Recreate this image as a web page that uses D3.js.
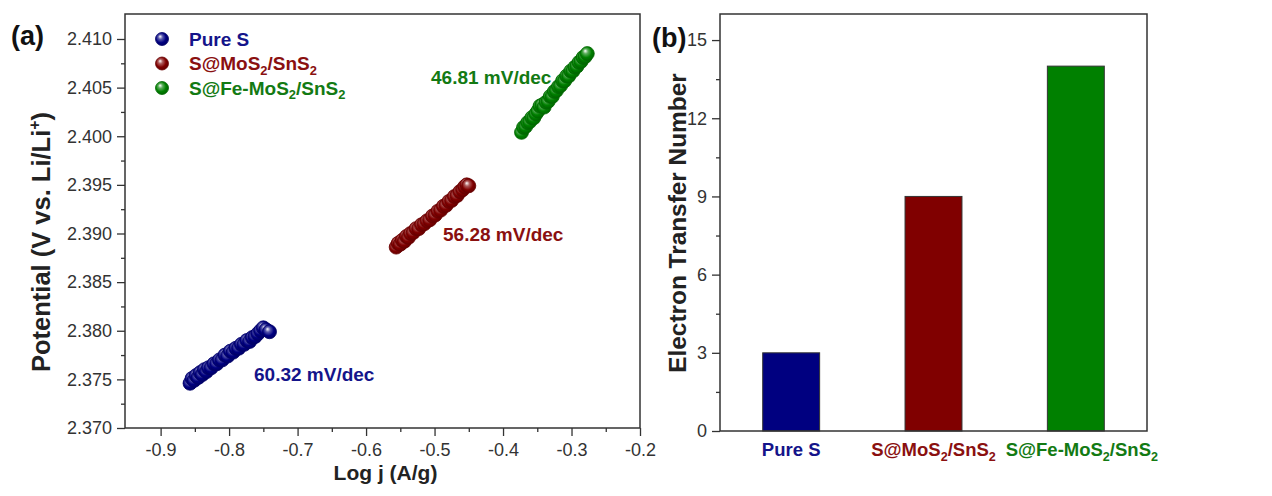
<!DOCTYPE html>
<html>
<head>
<meta charset="utf-8">
<script src="https://cdn.jsdelivr.net/npm/d3@7"></script>
<style>
  html, body { margin: 0; padding: 0; background: #fff; }
  svg { display: block; font-family: "Liberation Sans", Arial, sans-serif; }
</style>
</head>
<body>
<svg id="chart" width="1272" height="496"></svg>
<script>
// ---- Tafel data: log j (A/g) vs potential (V vs. Li/Li+) ----
const pureS = [
  [-0.857, 2.3746], [-0.854, 2.3751], [-0.851, 2.3749], [-0.848, 2.3754], [-0.845, 2.3752],
  [-0.842, 2.3757], [-0.839, 2.3755], [-0.836, 2.3760], [-0.833, 2.3758], [-0.830, 2.3762],
  [-0.826, 2.3762], [-0.822, 2.3766], [-0.818, 2.3766], [-0.814, 2.3770], [-0.810, 2.3770],
  [-0.806, 2.3775], [-0.802, 2.3774], [-0.798, 2.3779], [-0.794, 2.3778], [-0.790, 2.3782],
  [-0.786, 2.3782], [-0.782, 2.3786], [-0.778, 2.3786], [-0.774, 2.3790], [-0.770, 2.3789],
  [-0.766, 2.3793], [-0.762, 2.3794], [-0.758, 2.3797], [-0.754, 2.3800], [-0.750, 2.3803],
  [-0.746, 2.3801], [-0.741, 2.3799]
];
const moS2 = [
  [-0.556, 2.3886], [-0.553, 2.3890], [-0.550, 2.3889], [-0.547, 2.3893], [-0.544, 2.3892],
  [-0.541, 2.3897], [-0.538, 2.3896], [-0.535, 2.3900], [-0.531, 2.3901], [-0.527, 2.3905],
  [-0.523, 2.3905], [-0.519, 2.3909], [-0.515, 2.3910], [-0.511, 2.3913], [-0.507, 2.3914],
  [-0.503, 2.3918], [-0.499, 2.3919], [-0.495, 2.3923], [-0.491, 2.3924], [-0.487, 2.3928],
  [-0.483, 2.3929], [-0.479, 2.3933], [-0.475, 2.3934], [-0.471, 2.3938], [-0.467, 2.3939],
  [-0.463, 2.3943], [-0.459, 2.3945], [-0.456, 2.3948], [-0.453, 2.3950], [-0.450, 2.3949]
];
const feMoS2 = [
  [-0.373, 2.4004], [-0.370, 2.4009], [-0.367, 2.4010], [-0.364, 2.4014], [-0.361, 2.4015],
  [-0.358, 2.4019], [-0.355, 2.4019], [-0.352, 2.4023], [-0.349, 2.4026], [-0.346, 2.4031],
  [-0.343, 2.4032], [-0.340, 2.4030], [-0.337, 2.4035], [-0.334, 2.4036], [-0.331, 2.4041],
  [-0.328, 2.4041], [-0.325, 2.4046], [-0.322, 2.4047], [-0.319, 2.4051], [-0.316, 2.4052],
  [-0.313, 2.4057], [-0.310, 2.4057], [-0.307, 2.4062], [-0.304, 2.4062], [-0.301, 2.4067],
  [-0.298, 2.4067], [-0.295, 2.4071], [-0.292, 2.4072], [-0.289, 2.4076], [-0.286, 2.4077],
  [-0.283, 2.4081], [-0.280, 2.4082], [-0.277, 2.4085]
];
const tafelSlopes = ["60.32 mV/dec", "56.28 mV/dec", "46.81 mV/dec"];
const xTicksA = [-0.9, -0.8, -0.7, -0.6, -0.5, -0.4, -0.3, -0.2];
const yTicksA = [2.370, 2.375, 2.380, 2.385, 2.390, 2.395, 2.400, 2.405, 2.410];

// ---- Electron transfer number ----
const samples = ["Pure S", "S@MoS2/SnS2", "S@Fe-MoS2/SnS2"];
const electronNumbers = [3, 9, 14];
const yTicksB = [0, 3, 6, 9, 12, 15];

const colors = ["#000080", "#800000", "#008000"];
const textColors = ["#14148a", "#8a1010", "#137a13"];

const svg = d3.select("#chart");

// sphere-like marker fills
const defs = svg.append("defs");
colors.forEach((c, i) => {
  const g = defs.append("radialGradient").attr("id", "ball" + i)
    .attr("cx", "45%").attr("cy", "45%").attr("r", "60%")
    .attr("fx", "35%").attr("fy", "30%");
  g.append("stop").attr("offset", "0%").attr("stop-color", "#ffffff");
  g.append("stop").attr("offset", "30%").attr("stop-color", d3.interpolateRgb(c, "#fff")(0.35));
  g.append("stop").attr("offset", "65%").attr("stop-color", c);
  g.append("stop").attr("offset", "100%").attr("stop-color", d3.color(c).darker(0.8));
});

// text with chemical subscripts: "MoS2" -> MoS<sub>2</sub>
function chemText(sel, label, fontSize) {
  const shift = fontSize * 0.25;
  const parts = label.split(/(\d)/).filter(p => p !== "");
  let lowered = false;
  parts.forEach(p => {
    if (/^\d$/.test(p)) {
      sel.append("tspan").attr("font-size", fontSize * 0.68).attr("dy", shift).text(p);
      lowered = true;
    } else {
      const t = sel.append("tspan").text(p);
      if (lowered) { t.attr("dy", -shift); lowered = false; }
    }
  });
}

function styleAxis(g, fontSize) {
  g.select(".domain").remove();
  g.selectAll(".tick line").attr("stroke", "#333").attr("stroke-width", 1.3);
  g.selectAll(".tick text").attr("fill", "#333").attr("font-size", fontSize)
    .attr("font-family", "'Liberation Sans', Arial, sans-serif");
}

const TICK_FONT = 18;

// ================= Panel (a) =================
const A = { left: 125, top: 14, right: 640, bottom: 428 };
const xA = d3.scaleLinear().domain([-0.952, -0.2]).range([A.left, A.right]);
const yA = d3.scaleLinear().domain([2.370, 2.41257]).range([A.bottom, A.top]);

const gA = svg.append("g");

gA.append("g").attr("transform", `translate(0,${A.bottom})`)
  .call(d3.axisBottom(xA).tickValues(d3.range(-0.85, -0.2, 0.1)).tickSize(4).tickFormat(""))
  .call(g => styleAxis(g, TICK_FONT));
gA.append("g").attr("transform", `translate(0,${A.bottom})`)
  .call(d3.axisBottom(xA).tickValues(xTicksA).tickSize(8).tickPadding(7).tickFormat(d => d.toFixed(1)))
  .call(g => styleAxis(g, TICK_FONT));

gA.append("g").attr("transform", `translate(${A.left},0)`)
  .call(d3.axisLeft(yA).tickValues(d3.range(2.3725, 2.411, 0.005)).tickSize(4).tickFormat(""))
  .call(g => styleAxis(g, TICK_FONT));
gA.append("g").attr("transform", `translate(${A.left},0)`)
  .call(d3.axisLeft(yA).tickValues(yTicksA).tickSize(8).tickPadding(5).tickFormat(d => d.toFixed(3)))
  .call(g => styleAxis(g, TICK_FONT));

gA.append("rect").attr("x", A.left).attr("y", A.top)
  .attr("width", A.right - A.left).attr("height", A.bottom - A.top)
  .attr("fill", "none").attr("stroke", "#333").attr("stroke-width", 1.5);

[pureS, moS2, feMoS2].forEach((series, i) => {
  gA.append("g").selectAll("circle").data(series).join("circle")
    .attr("cx", d => xA(d[0])).attr("cy", d => yA(d[1])).attr("r", 7)
    .attr("fill", `url(#ball${i})`)
    .attr("stroke", d3.color(colors[i]).darker(0.6)).attr("stroke-width", 0.8);
});

// slope annotations
const slopePos = [[254, 381], [443, 241], [431, 84]];
tafelSlopes.forEach((t, i) => {
  gA.append("text").attr("x", slopePos[i][0]).attr("y", slopePos[i][1])
    .attr("font-size", 19).attr("font-weight", "bold").attr("fill", textColors[i]).text(t);
});

// legend
samples.forEach((s, i) => {
  const y = 39 + i * 24.5;
  gA.append("circle").attr("cx", 162).attr("cy", y).attr("r", 6.5)
    .attr("fill", `url(#ball${i})`)
    .attr("stroke", d3.color(colors[i]).darker(0.6)).attr("stroke-width", 0.8);
  const t = gA.append("text").attr("x", 189).attr("y", y + 6.5)
    .attr("font-size", 19).attr("font-weight", "bold").attr("fill", textColors[i]);
  chemText(t, s, 19);
});

// axis titles
gA.append("text").attr("x", (A.left + A.right) / 2 + 3).attr("y", 480)
  .attr("text-anchor", "middle").attr("font-size", 21).attr("font-weight", "bold")
  .attr("fill", "#222").text("Log j (A/g)");
const TITLE_A = 25.5;
const yTitleA = gA.append("text")
  .attr("transform", `translate(50,242) rotate(-90)`)
  .attr("text-anchor", "middle").attr("font-size", TITLE_A).attr("font-weight", "bold").attr("fill", "#222");
yTitleA.append("tspan").text("Potential (V vs. Li/Li");
yTitleA.append("tspan").attr("font-size", TITLE_A * 0.62).attr("dy", -TITLE_A * 0.38).text("+");
yTitleA.append("tspan").attr("dy", TITLE_A * 0.38).text(")");

svg.append("text").attr("x", 11).attr("y", 45).attr("font-size", 27)
  .attr("font-weight", "bold").attr("fill", "#111").text("(a)");

// ================= Panel (b) =================
const B = { left: 720, top: 14, right: 1147, bottom: 431 };
const xB = d3.scaleBand().domain(samples).range([B.left, B.right])
  .paddingInner(0.6).paddingOuter(0.3);
const yB = d3.scaleLinear().domain([0, 16]).range([B.bottom, B.top]);

const gB = svg.append("g");

gB.append("g").attr("transform", `translate(${B.left},0)`)
  .call(d3.axisLeft(yB).tickValues(d3.range(1.5, 15, 3)).tickSize(4).tickFormat(""))
  .call(g => styleAxis(g, TICK_FONT));
gB.append("g").attr("transform", `translate(${B.left},0)`)
  .call(d3.axisLeft(yB).tickValues(yTicksB).tickSize(8).tickPadding(5).tickFormat(d3.format("d")))
  .call(g => styleAxis(g, TICK_FONT));

gB.append("g").selectAll("rect").data(electronNumbers).join("rect")
  .attr("x", (d, i) => xB(samples[i])).attr("width", xB.bandwidth())
  .attr("y", d => yB(d)).attr("height", d => yB(0) - yB(d))
  .attr("fill", (d, i) => colors[i]).attr("stroke", "#333").attr("stroke-width", 1);

gB.append("rect").attr("x", B.left).attr("y", B.top)
  .attr("width", B.right - B.left).attr("height", B.bottom - B.top)
  .attr("fill", "none").attr("stroke", "#333").attr("stroke-width", 1.5);

samples.forEach((s, i) => {
  const t = gB.append("text").attr("x", xB(s) + xB.bandwidth() / 2 + (i === 2 ? 6 : 0)).attr("y", 456)
    .attr("text-anchor", "middle").attr("font-size", 18.5).attr("font-weight", "bold")
    .attr("fill", textColors[i]);
  chemText(t, s, 18.5);
});

gB.append("text")
  .attr("transform", `translate(686,223) rotate(-90)`)
  .attr("text-anchor", "middle").attr("font-size", 24.4).attr("font-weight", "bold")
  .attr("fill", "#222").text("Electron Transfer Number");

svg.append("text").attr("x", 652).attr("y", 47).attr("font-size", 27)
  .attr("font-weight", "bold").attr("fill", "#111").text("(b)");
</script>
</body>
</html>
